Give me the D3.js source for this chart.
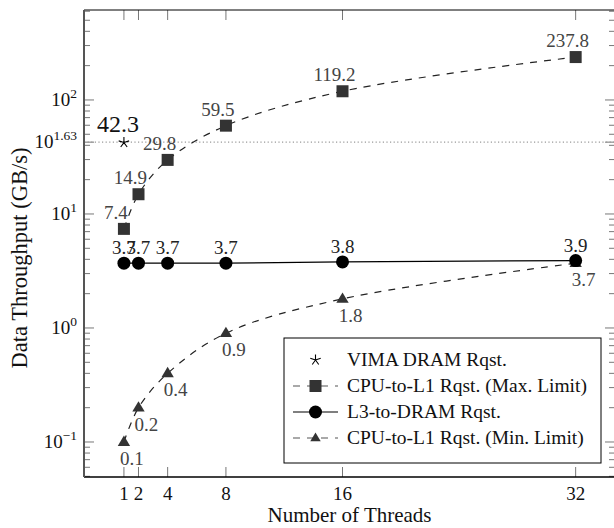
<!DOCTYPE html>
<html>
<head>
<meta charset="utf-8">
<script src="https://cdn.jsdelivr.net/npm/d3@7"></script>
<style>
  body { margin: 0; background: #fff; }
  text { font-family: "Liberation Serif", "Times New Roman", serif; }
</style>
</head>
<body>
<div id="chart"></div>
<script>
// ---- data ----
const threads = [1, 2, 4, 8, 16, 32];
const vimaDram = [{ t: 1, v: 42.3 }];
const cpuL1Max = [7.4, 14.9, 29.8, 59.5, 119.2, 237.8];
const l3Dram = [3.7, 3.7, 3.7, 3.7, 3.8, 3.9];
const cpuL1Min = [0.1, 0.2, 0.4, 0.9, 1.8, 3.7];
const refExponent = 1.63;
const yDecades = [-1, 0, 1, 2];
const legendLabels = ['VIMA DRAM Rqst.', 'CPU-to-L1 Rqst. (Max. Limit)', 'L3-to-DRAM Rqst.', 'CPU-to-L1 Rqst. (Min. Limit)'];

const W = 614, H = 528;
const margin = { top: 10, right: -1, bottom: 51, left: 84 };
const width = W - margin.left - margin.right;
const height = H - margin.top - margin.bottom;

const svg = d3.select('#chart').append('svg')
  .attr('width', W)
  .attr('height', H);

const g = svg.append('g')
  .attr('transform', `translate(${margin.left}, ${margin.top})`);

const x = d3.scaleLinear().domain([-1.74, 34.7]).range([0, width]);
const y = d3.scaleLog().domain([Math.pow(10, -1.307), Math.pow(10, 2.789)]).range([height, 0]);

const zip = vals => vals.map((v, i) => ({ t: threads[i], v }));
const maxData = zip(cpuL1Max);
const l3Data = zip(l3Dram);
const minData = zip(cpuL1Min);

// ---- ticks ----
const tickColor = '#777';
const minor = [];
yDecades.concat([-2]).forEach((d) => {
  for (let k = 2; k <= 9; k += 1) {
    const v = k * Math.pow(10, d);
    if (y(v) >= 0 && y(v) <= height) minor.push(v);
  }
});
const major = yDecades.map(d => Math.pow(10, d)).concat([Math.pow(10, refExponent)]);

[0, width].forEach((x0) => {
  const dir = x0 === 0 ? 1 : -1;
  g.selectAll(null).data(minor).enter().append('line')
    .attr('x1', x0).attr('x2', x0 + dir * 6)
    .attr('y1', d => y(d)).attr('y2', d => y(d))
    .attr('stroke', tickColor).attr('stroke-width', 1);
  g.selectAll(null).data(major).enter().append('line')
    .attr('x1', x0).attr('x2', x0 + dir * 10)
    .attr('y1', d => y(d)).attr('y2', d => y(d))
    .attr('stroke', tickColor).attr('stroke-width', 1);
});
[0, height].forEach((y0) => {
  const dir = y0 === 0 ? 1 : -1;
  g.selectAll(null).data(threads).enter().append('line')
    .attr('x1', d => x(d)).attr('x2', d => x(d))
    .attr('y1', y0).attr('y2', y0 + dir * 10)
    .attr('stroke', tickColor).attr('stroke-width', 1);
});

// reference dotted line
g.append('line')
  .attr('x1', 0).attr('x2', width)
  .attr('y1', y(Math.pow(10, refExponent))).attr('y2', y(Math.pow(10, refExponent)))
  .attr('stroke', '#999').attr('stroke-width', 1.2)
  .attr('stroke-dasharray', '1.2,2.4');

// frame (right spine falls just outside the picture)
g.append('line').attr('x1', 0).attr('x2', width).attr('y1', 0).attr('y2', 0).attr('stroke', '#000');
g.append('line').attr('x1', 0).attr('x2', width).attr('y1', height).attr('y2', height).attr('stroke', '#000').attr('stroke-width', 1.3);
g.append('line').attr('x1', 0).attr('x2', 0).attr('y1', 0).attr('y2', height).attr('stroke', '#555').attr('stroke-width', 2);

// tick labels
g.selectAll('.xtick').data(threads).enter().append('text')
  .attr('class', 'xtick')
  .attr('x', d => x(d)).attr('y', height + 23)
  .attr('text-anchor', 'middle')
  .attr('font-size', 19).attr('fill', '#111')
  .text(d => d);

const ylab = g.selectAll('.ytick').data(yDecades.map(String).concat([String(refExponent)])).enter().append('text')
  .attr('class', 'ytick')
  .attr('x', -7).attr('y', d => y(Math.pow(10, +d)) + 6)
  .attr('text-anchor', 'end')
  .attr('font-size', 19).attr('fill', '#111');
ylab.append('tspan').text('10');
ylab.append('tspan').attr('dy', -8).attr('font-size', 13.5)
  .text(d => d.replace('-', '\u2212'));

// axis titles
svg.append('text')
  .attr('x', margin.left + width / 2).attr('y', H - 6)
  .attr('text-anchor', 'middle').attr('font-size', 21).attr('fill', '#111')
  .text('Number of Threads');
svg.append('text')
  .attr('transform', 'translate(27, 258) rotate(-90)')
  .attr('text-anchor', 'middle').attr('font-size', 22.5).attr('fill', '#111')
  .text('Data Throughput (GB/s)');

// ---- series ----
const line = d3.line().x(d => x(d.t)).y(d => y(d.v));
const smooth = d3.line().x(d => x(d.t)).y(d => y(d.v)).curve(d3.curveCatmullRom.alpha(0.5));

g.append('path').datum(maxData)
  .attr('d', smooth).attr('fill', 'none')
  .attr('stroke', '#222').attr('stroke-width', 1.2).attr('stroke-dasharray', '7,7');
g.append('path').datum(minData)
  .attr('d', smooth).attr('fill', 'none')
  .attr('stroke', '#222').attr('stroke-width', 1.2).attr('stroke-dasharray', '7,7');
g.append('path').datum(l3Data)
  .attr('d', line).attr('fill', 'none')
  .attr('stroke', '#000').attr('stroke-width', 1.3);

const starPath = (r) => {
  let p = '';
  for (let k = 0; k < 5; k += 1) {
    const a = -Math.PI / 2 + k * 2 * Math.PI / 5;
    p += `M0,0L${r * Math.cos(a)},${r * Math.sin(a)}`;
  }
  return p;
};
const triPath = s => `M0,${-s}L${s * 0.95},${s * 0.6}L${-s * 0.95},${s * 0.6}Z`;

g.selectAll('.sq').data(maxData).enter().append('rect')
  .attr('class', 'sq')
  .attr('x', d => x(d.t) - 6).attr('y', d => y(d.v) - 6)
  .attr('width', 12).attr('height', 12)
  .attr('fill', '#333');
g.selectAll('.tri').data(minData).enter().append('path')
  .attr('class', 'tri')
  .attr('transform', d => `translate(${x(d.t)},${y(d.v)})`)
  .attr('d', triPath(6.5)).attr('fill', '#333');
g.selectAll('.dot').data(l3Data).enter().append('circle')
  .attr('class', 'dot')
  .attr('cx', d => x(d.t)).attr('cy', d => y(d.v)).attr('r', 6.5)
  .attr('fill', '#000');
g.selectAll('.star').data(vimaDram).enter().append('path')
  .attr('class', 'star')
  .attr('transform', d => `translate(${x(d.t)},${y(d.v)})`)
  .attr('d', starPath(5.5)).attr('stroke', '#000').attr('stroke-width', 1.1).attr('fill', 'none');

// value labels
g.selectAll('.lmax').data(maxData).enter().append('text')
  .attr('x', d => x(d.t) - 8).attr('y', d => y(d.v) - 10)
  .attr('text-anchor', 'middle').attr('font-size', 19).attr('fill', '#444')
  .text(d => d.v.toFixed(1));
g.selectAll('.ll3').data(l3Data).enter().append('text')
  .attr('x', d => x(d.t)).attr('y', d => y(d.v) - 9)
  .attr('text-anchor', 'middle').attr('font-size', 19).attr('fill', '#222')
  .text(d => d.v.toFixed(1));
g.selectAll('.lmin').data(minData).enter().append('text')
  .attr('x', d => x(d.t) + 8).attr('y', d => y(d.v) + 23)
  .attr('text-anchor', 'middle').attr('font-size', 19).attr('fill', '#444')
  .text(d => d.v.toFixed(1));
g.selectAll('.lvima').data(vimaDram).enter().append('text')
  .attr('x', d => x(d.t) - 6).attr('y', d => y(d.v) - 11)
  .attr('text-anchor', 'middle').attr('font-size', 24).attr('fill', '#111')
  .text(d => d.v.toFixed(1));

// ---- legend ----
const lg = svg.append('g').attr('transform', 'translate(284, 338)');
lg.append('rect').attr('width', 317).attr('height', 125)
  .attr('fill', '#fff').attr('stroke', '#000').attr('stroke-width', 1);

const rows = lg.selectAll('.row').data(legendLabels).enter().append('g')
  .attr('transform', (d, i) => `translate(0, ${22 + i * 26})`);
rows.append('text')
  .attr('x', 63).attr('y', 6)
  .attr('font-size', 19.5).attr('fill', '#111')
  .text(d => d);

const sym = rows.filter((d, i) => i > 0);
sym.append('line')
  .attr('x1', 9).attr('x2', 54).attr('y1', 0).attr('y2', 0)
  .attr('stroke', (d, i) => (i === 1 ? '#000' : '#555'))
  .attr('stroke-width', 1.2)
  .attr('stroke-dasharray', (d, i) => (i === 1 ? null : '7,7'));
rows.filter((d, i) => i === 0).append('path')
  .attr('transform', 'translate(31.5, 0)')
  .attr('d', starPath(5.5)).attr('stroke', '#000').attr('stroke-width', 1.1).attr('fill', 'none');
rows.filter((d, i) => i === 1).append('rect')
  .attr('x', 25.5).attr('y', -6).attr('width', 12).attr('height', 12).attr('fill', '#333');
rows.filter((d, i) => i === 2).append('circle')
  .attr('cx', 31.5).attr('cy', 0).attr('r', 6.5).attr('fill', '#000');
rows.filter((d, i) => i === 3).append('path')
  .attr('transform', 'translate(31.5, 0)')
  .attr('d', triPath(5.5)).attr('fill', '#333');
</script>
</body>
</html>
